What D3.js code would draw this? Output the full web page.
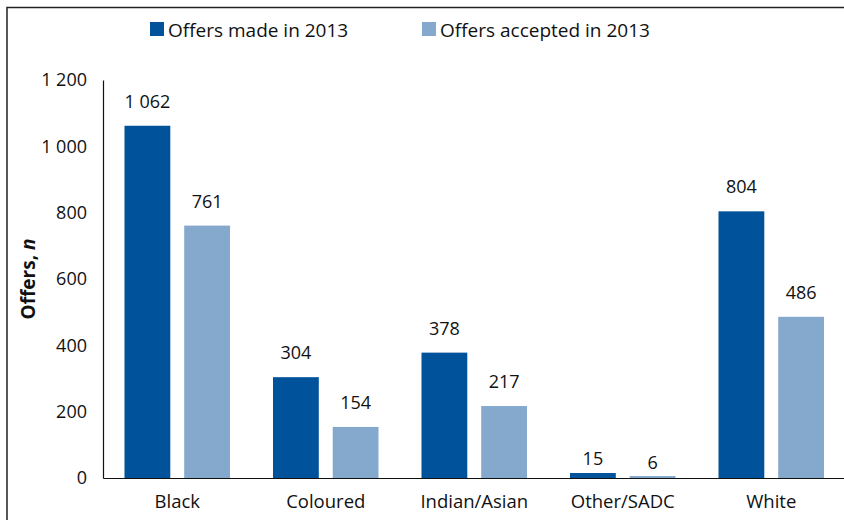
<!DOCTYPE html>
<html>
<head>
<meta charset="utf-8">
<script src="https://cdn.jsdelivr.net/npm/d3@7"></script>
<style>
  body { margin: 0; background: #fff; }
  svg text { font-family: "Open Sans", "Noto Sans", sans-serif; fill: #111; }
</style>
</head>
<body>
<svg id="chart" width="844" height="520"></svg>
<script>
const categories = ["Black", "Coloured", "Indian/Asian", "Other/SADC", "White"];
const seriesNames = ["Offers made in 2013", "Offers accepted in 2013"];
const offersMade = [1062, 304, 378, 15, 804];
const offersAccepted = [761, 154, 217, 6, 486];
const yTicks = [0, 200, 400, 600, 800, 1000, 1200];

const colors = ["#00529b", "#84a9cd"];

const svg = d3.select("#chart");
const margin = { top: 80, left: 103, bottom: 42 };
const width = 742.5;
const height = 520 - margin.top - margin.bottom;

const fmt = d3.formatLocale({ decimal: ".", thousands: "\u00a0", grouping: [3], currency: ["", ""] }).format(",d");

// frame (top and left only)
svg.append("path")
  .attr("d", "M7,520 V7.5 H844")
  .attr("fill", "none")
  .attr("stroke", "#222")
  .attr("stroke-width", 1.5);

const chart = svg.append("g")
  .attr("transform", `translate(${margin.left},${margin.top})`);

const x = d3.scaleBand().domain(categories).range([0, width]).padding(0);
const x1 = d3.scaleBand().domain([0, 1]).range([0, x.bandwidth()]).paddingInner(0.233).paddingOuter(0.36);
const y = d3.scaleLinear().domain([0, 1200]).range([height, 0]);

const data = categories.map((c, i) => ({ cat: c, values: [offersMade[i], offersAccepted[i]] }));

const groups = chart.selectAll(".grp")
  .data(data)
  .enter().append("g")
  .attr("class", "grp")
  .attr("transform", d => `translate(${x(d.cat)},0)`);

groups.selectAll("rect")
  .data(d => d.values)
  .enter().append("rect")
  .attr("x", (d, i) => x1(i))
  .attr("width", x1.bandwidth())
  .attr("y", d => y(d))
  .attr("height", d => height - y(d))
  .attr("fill", (d, i) => colors[i]);

// labels sit closer to the very short bars
groups.selectAll(".val")
  .data(d => d.values)
  .enter().append("text")
  .attr("class", "val")
  .attr("x", (d, i) => x1(i) + x1.bandwidth() / 2)
  .attr("y", d => y(d) - Math.min(18, 6 + (height - y(d)) * 0.4))
  .attr("text-anchor", "middle")
  .style("font-size", "18px")
  .text(d => fmt(d));

// y axis
const yAxis = chart.append("g")
  .call(d3.axisLeft(y).tickValues(yTicks).tickSize(0).tickPadding(16).tickFormat(fmt));
yAxis.select(".domain").attr("stroke", "#111").attr("stroke-width", 1.2);
yAxis.selectAll("text").style("font-size", "18px").attr("fill", "#111");

// x axis
const xAxis = chart.append("g")
  .attr("transform", `translate(0,${height})`)
  .call(d3.axisBottom(x).tickSize(0).tickPadding(17));
xAxis.select(".domain").attr("stroke", "#111").attr("stroke-width", 1.2);
xAxis.selectAll("text").style("font-size", "18.5px").attr("fill", "#111");

// y title
const yTitle = svg.append("text")
  .attr("transform", `translate(35,${margin.top + height / 2}) rotate(-90)`)
  .attr("text-anchor", "middle")
  .style("font-size", "19px")
  .style("font-weight", "bold");
yTitle.append("tspan").text("Offers, ");
yTitle.append("tspan").style("font-style", "italic").text("n");

// legend
const legendX = [150, 422];
const legend = svg.selectAll(".leg")
  .data(seriesNames)
  .enter().append("g")
  .attr("class", "leg")
  .attr("transform", (d, i) => `translate(${legendX[i]},22)`);
legend.append("rect").attr("width", 14).attr("height", 14).attr("fill", (d, i) => colors[i]);
legend.append("text")
  .attr("x", 18).attr("y", 14.5)
  .style("font-size", "19px")
  .text(d => d);
</script>
</body>
</html>
